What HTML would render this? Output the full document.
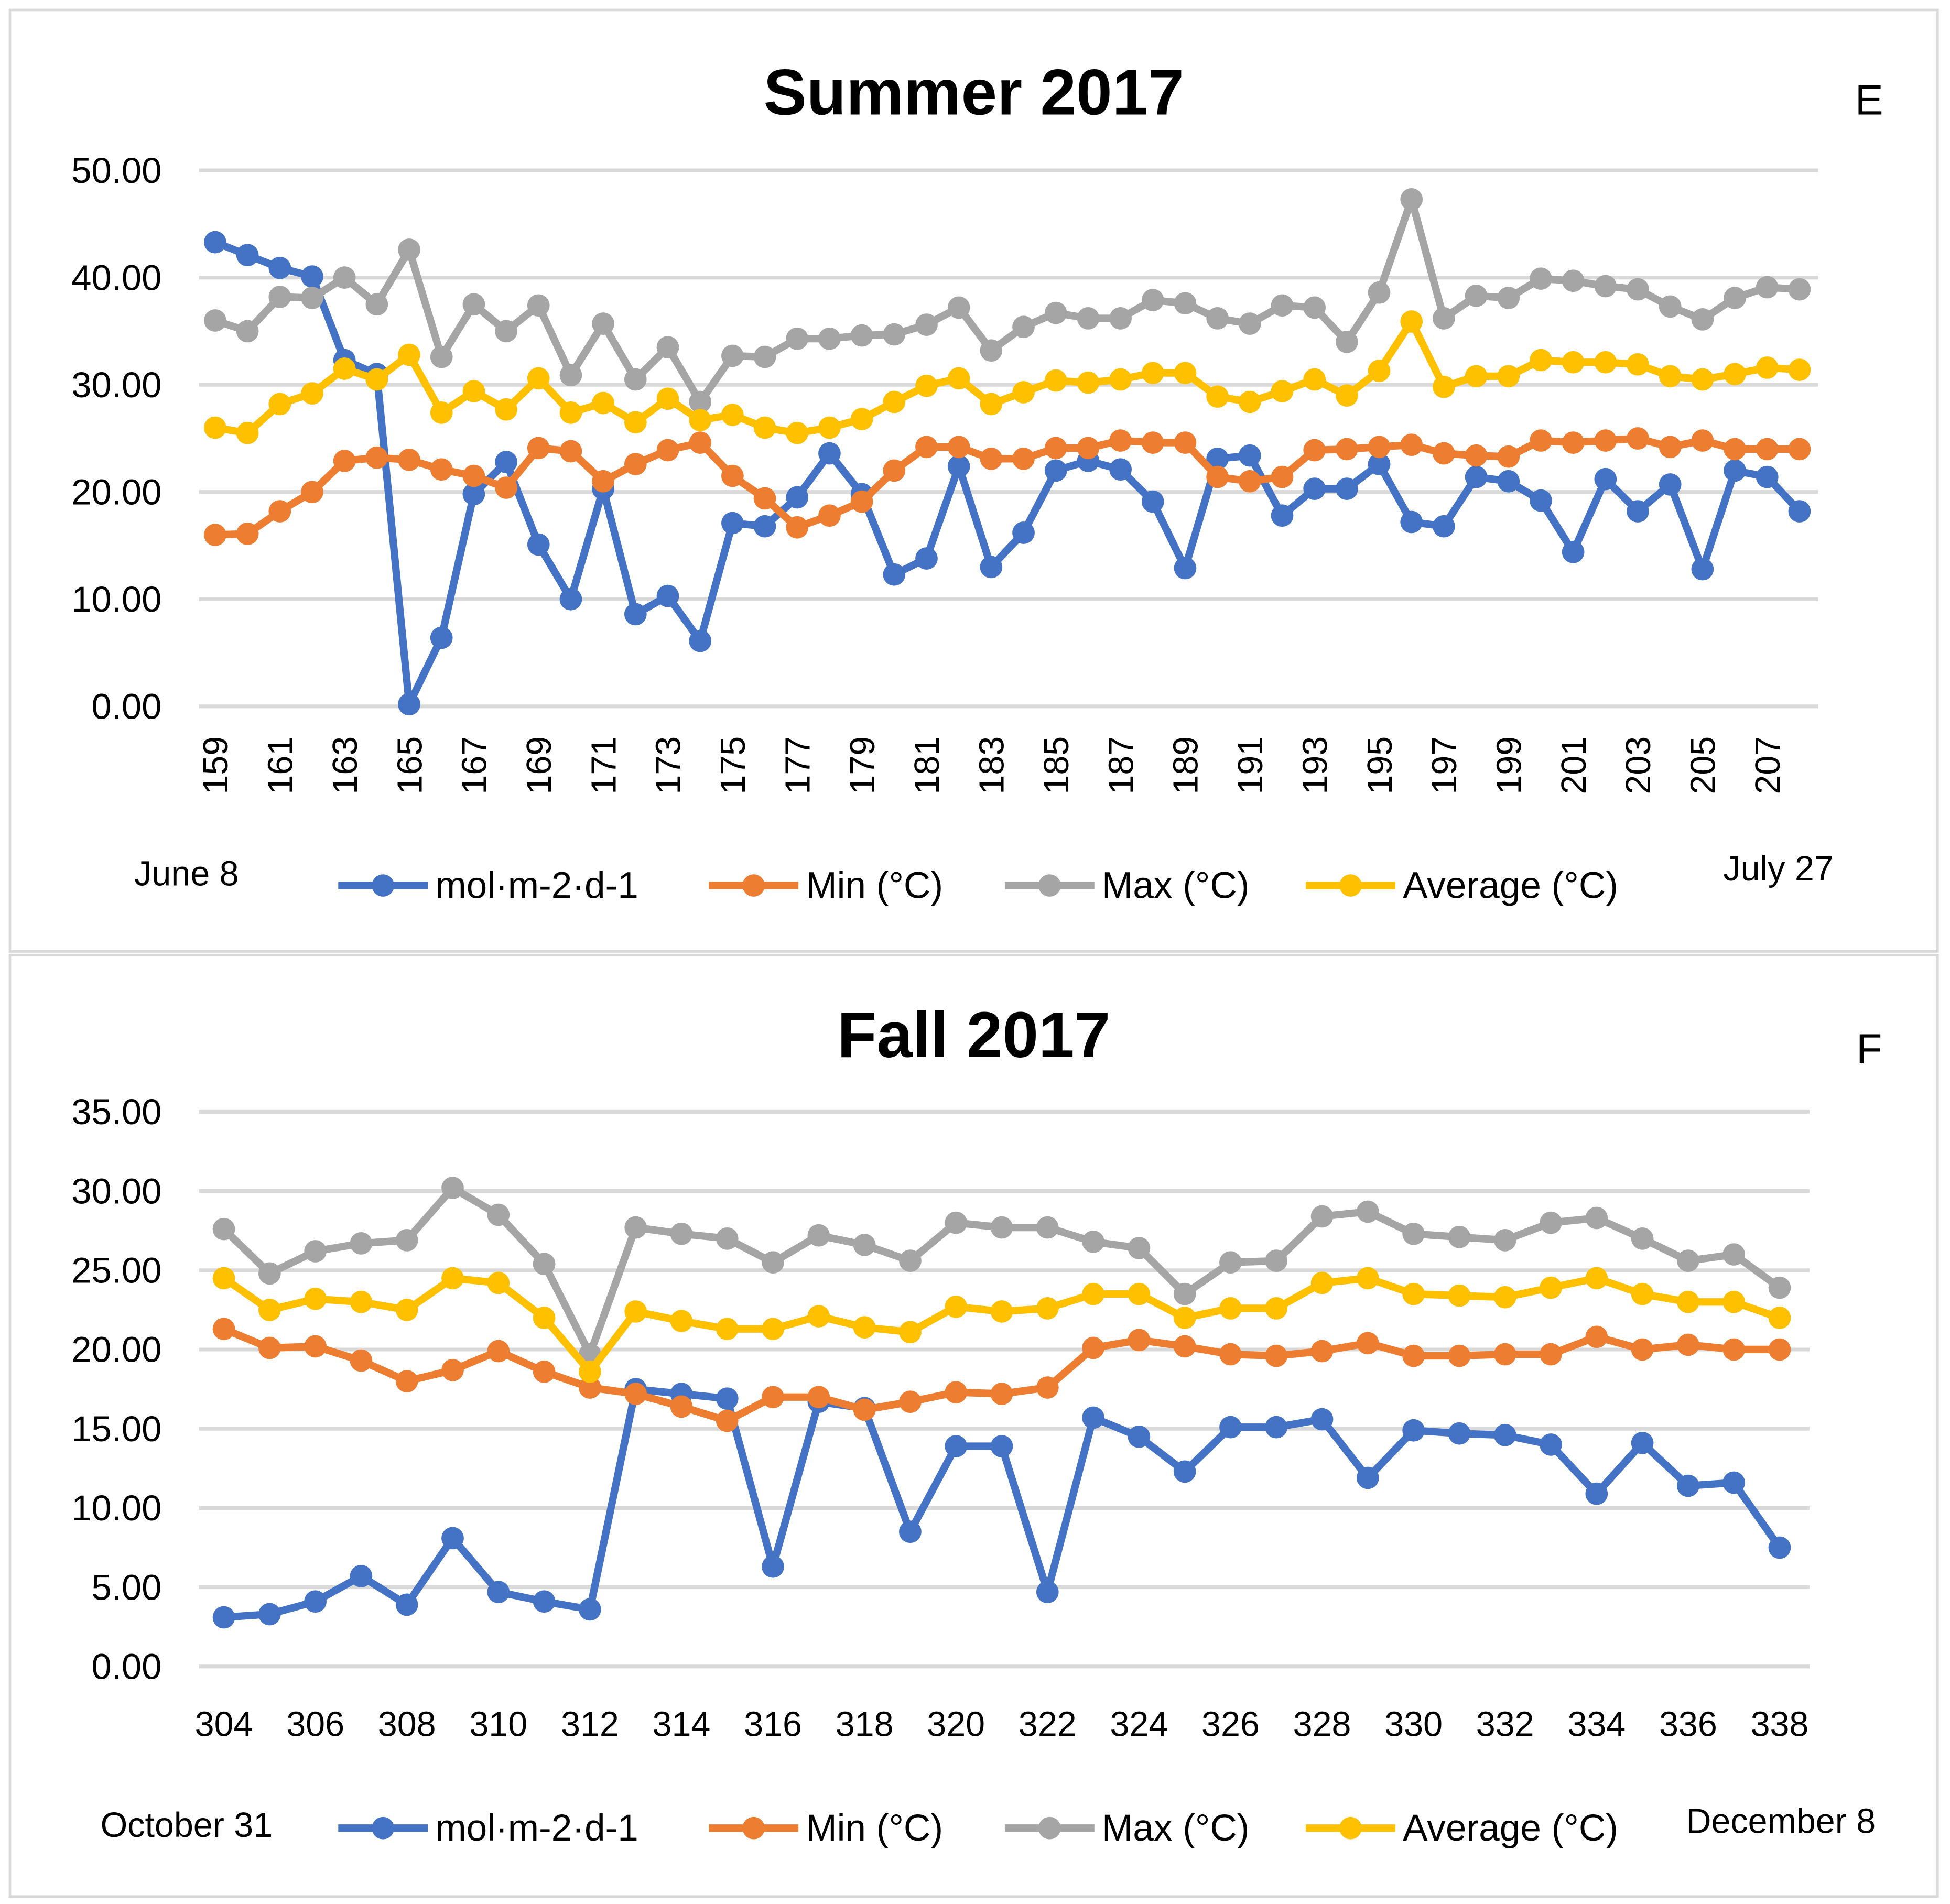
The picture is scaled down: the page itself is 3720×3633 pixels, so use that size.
<!DOCTYPE html>
<html><head><meta charset="utf-8">
<style>
html,body{margin:0;padding:0;background:#fff;}
svg{display:block;font-family:"Liberation Sans",sans-serif;}
</style></head>
<body>
<svg id="s" width="3720" height="3633" viewBox="0 0 1568 1531" preserveAspectRatio="none" xmlns="http://www.w3.org/2000/svg">
<rect x="8" y="8" width="1550" height="757" fill="#fff" stroke="#d9d9d9" stroke-width="2"/>
<rect x="8" y="768" width="1550" height="757" fill="#fff" stroke="#d9d9d9" stroke-width="2"/>
<text x="783" y="92" font-size="52" font-weight="bold" text-anchor="middle">Summer 2017</text>
<text x="1503" y="92" font-size="34" text-anchor="middle">E</text>
<text x="783" y="850" font-size="52" font-weight="bold" text-anchor="middle">Fall 2017</text>
<text x="1503" y="855" font-size="34" text-anchor="middle">F</text>
<text x="150" y="712" font-size="28" text-anchor="middle">June 8</text>
<text x="1430" y="708" font-size="28" text-anchor="middle">July 27</text>
<text x="150" y="1477" font-size="28" text-anchor="middle">October 31</text>
<text x="1432" y="1474" font-size="28" text-anchor="middle">December 8</text>
<g id="c1"></g><g id="c2"></g>
</svg>
<script>
const summerDays=[];for(let d=159;d<=208;d++)summerDays.push(d);
const summerMol=[43.3,42.1,40.9,40.1,32.3,31.0,0.2,6.4,19.8,22.8,15.1,10.0,20.3,8.6,10.3,6.1,17.1,16.8,19.5,23.6,19.8,12.3,13.8,22.4,13.0,16.2,22.0,22.9,22.1,19.1,12.9,23.1,23.4,17.8,20.3,20.3,22.6,17.2,16.8,21.4,21.0,19.2,14.4,21.2,18.2,20.7,12.8,22.0,21.4,18.2];
const summerMin=[16.0,16.1,18.2,20.0,22.9,23.2,23.0,22.1,21.5,20.4,24.1,23.8,21.0,22.6,23.9,24.6,21.5,19.4,16.7,17.8,19.1,22.0,24.2,24.2,23.1,23.1,24.1,24.1,24.8,24.6,24.6,21.4,21.0,21.4,23.9,24.0,24.2,24.4,23.6,23.4,23.3,24.8,24.6,24.8,25.0,24.2,24.8,24.0,24.0,24.0];
const summerMax=[36.0,35.0,38.2,38.1,40.0,37.5,42.6,32.6,37.5,35.0,37.4,30.9,35.7,30.5,33.5,28.4,32.7,32.6,34.3,34.3,34.6,34.7,35.6,37.2,33.2,35.4,36.7,36.2,36.2,37.9,37.6,36.2,35.7,37.4,37.2,34.0,38.6,47.3,36.2,38.3,38.1,39.9,39.7,39.2,38.9,37.3,36.1,38.1,39.1,38.9];
const summerAvg=[26.0,25.5,28.2,29.2,31.5,30.5,32.8,27.4,29.4,27.7,30.6,27.4,28.3,26.5,28.7,26.7,27.2,26.0,25.5,26.0,26.8,28.4,29.9,30.6,28.2,29.3,30.4,30.2,30.5,31.1,31.1,28.9,28.4,29.4,30.5,29.0,31.3,35.9,29.8,30.8,30.8,32.3,32.1,32.1,31.9,30.8,30.5,31.0,31.6,31.4];
const summerTicks=[0,10,20,30,40,50];
const fallDays=[];for(let d=304;d<=338;d++)fallDays.push(d);
const fallMol=[3.1,3.3,4.1,5.7,3.9,8.1,4.7,4.1,3.6,17.5,17.2,16.9,6.3,16.7,16.3,8.5,13.9,13.9,4.7,15.7,14.5,12.3,15.1,15.1,15.6,11.9,14.9,14.7,14.6,14.0,10.9,14.1,11.4,11.6,7.5];
const fallMin=[21.3,20.1,20.2,19.3,18.0,18.7,19.9,18.6,17.6,17.2,16.4,15.5,17.0,17.0,16.2,16.7,17.3,17.2,17.6,20.1,20.6,20.2,19.7,19.6,19.9,20.4,19.6,19.6,19.7,19.7,20.8,20.0,20.3,20.0,20.0];
const fallMax=[27.6,24.8,26.2,26.7,26.9,30.2,28.5,25.4,19.7,27.7,27.3,27.0,25.5,27.2,26.6,25.6,28.0,27.7,27.7,26.8,26.4,23.5,25.5,25.6,28.4,28.7,27.3,27.1,26.9,28.0,28.3,27.0,25.6,26.0,23.9];
const fallAvg=[24.5,22.5,23.2,23.0,22.5,24.5,24.2,22.0,18.6,22.4,21.8,21.3,21.3,22.1,21.4,21.1,22.7,22.4,22.6,23.5,23.5,22.0,22.6,22.6,24.2,24.5,23.5,23.4,23.3,23.9,24.5,23.5,23.0,23.0,22.0];
const fallTicks=[0,5,10,15,20,25,30,35];
const seriesNames=["mol·m-2·d-1","Min (°C)","Max (°C)","Average (°C)"];
const colors=["#4472C4","#ED7D31","#A5A5A5","#FFC000"];
const NS="http://www.w3.org/2000/svg";
function mk(p,tag,a){const e=document.createElementNS(NS,tag);for(const k in a)e.setAttribute(k,a[k]);p.appendChild(e);return e;}
function draw(g,cfg){
  const xs=i=>cfg.x0+(cfg.x1-cfg.x0)*i/(cfg.days.length-1);
  const ys=v=>cfg.y0+(cfg.yT-cfg.y0)*v/cfg.ymax;
  cfg.ticks.forEach(t=>{
    const l=mk(g,'line',{x1:cfg.gx0,x2:cfg.gx1,y1:ys(t),y2:ys(t),stroke:'#d9d9d9','stroke-width':3});
    
    
    const tx=mk(g,'text',{x:130,y:ys(t)+10,'font-size':29,'text-anchor':'end'});
    
    
    tx.textContent=t.toFixed(2);
  });
  cfg.days.forEach((d,i)=>{
    if(i%2)return;
    let tx;
    if(cfg.rot){tx=mk(g,'text',{x:0,y:0,'font-size':28,'text-anchor':'end',transform:`translate(${xs(i)+10},592) rotate(-90)`});}
    else{tx=mk(g,'text',{x:xs(i),y:1396,'font-size':28,'text-anchor':'middle'});}
    
    
    tx.textContent=d;
  });
  cfg.series.forEach((s,k)=>{
    const pts=s.map((v,i)=>xs(i).toFixed(1)+','+ys(v).toFixed(1)).join(' ');
    const pl=mk(g,'polyline',{points:pts,fill:'none',stroke:colors[k],'stroke-width':6,'stroke-linejoin':'round'});
    
    
    s.forEach((v,i)=>{
      const c=mk(g,'circle',{cx:xs(i),cy:ys(v),r:9,fill:colors[k]});
      
      
    });
  });
  const lx=[272,570,808,1050];
  seriesNames.forEach((n,k)=>{
    const l=mk(g,'line',{x1:lx[k],x2:lx[k]+72,y1:cfg.ly,y2:cfg.ly,stroke:colors[k],'stroke-width':6});
    
    
    const c=mk(g,'circle',{cx:lx[k]+36,cy:cfg.ly,r:9,fill:colors[k]});
    
    
    const t=mk(g,'text',{x:lx[k]+78,y:cfg.ly+10,'font-size':30});
    
    
    t.textContent=n;
  });
}
draw(document.getElementById('c1'),{days:summerDays,series:[summerMol,summerMin,summerMax,summerAvg],ticks:summerTicks,ymax:50,x0:173,x1:1447,gx0:160,gx1:1462,y0:568,yT:137,rot:true,ly:712});
draw(document.getElementById('c2'),{days:fallDays,series:[fallMol,fallMin,fallMax,fallAvg],ticks:fallTicks,ymax:35,x0:180,x1:1431,gx0:160,gx1:1455,y0:1340,yT:894,rot:false,ly:1470});
</script>
</body></html>
